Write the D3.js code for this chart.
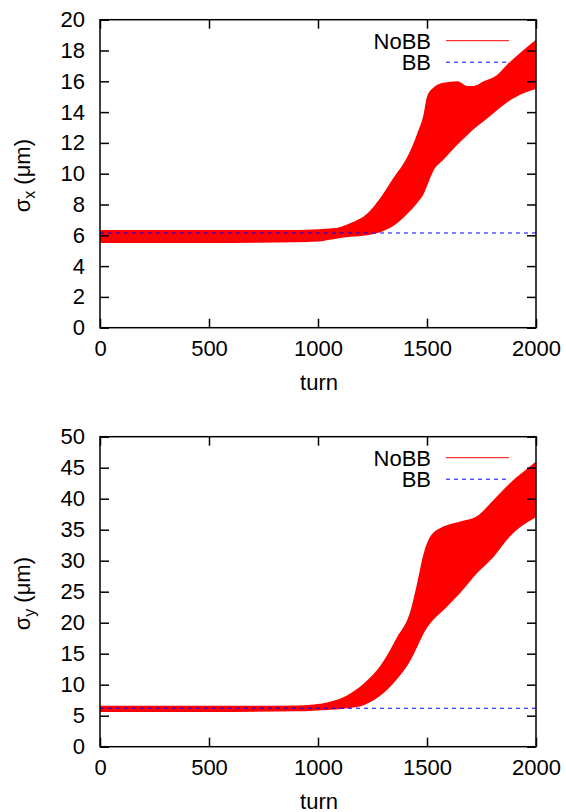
<!DOCTYPE html>
<html>
<head>
<meta charset="utf-8">
<script src="https://cdn.jsdelivr.net/npm/d3@7"></script>
<style>
  body { margin: 0; background: #fff; }
  text { font-family: "Liberation Sans", Arial, sans-serif; }
</style>
</head>
<body>
<div id="chart-area"></div>
<script>
// turns and envelope of the NoBB oscillation, sigma_x (um)
var turnsX = [0, 500, 900, 1000, 1070, 1150, 1225, 1285, 1345, 1410, 1455, 1485, 1500, 1530, 1575, 1640, 1685, 1715, 1760, 1820, 1865, 1940, 2000];
var noBBxHigh = [6.35, 6.35, 6.35, 6.4, 6.45, 6.8, 7.4, 8.4, 9.7, 11.1, 12.6, 13.9, 15.0, 15.6, 15.9, 16.0, 15.7, 15.7, 16.0, 16.4, 17.05, 18.0, 18.7];
var noBBxLow = [5.5, 5.5, 5.55, 5.6, 5.75, 5.9, 6.0, 6.2, 6.6, 7.4, 8.1, 8.7, 9.2, 10.2, 10.9, 11.9, 12.5, 12.9, 13.4, 14.1, 14.6, 15.2, 15.5];

// sigma_y (um)
var turnsY = [0, 500, 900, 980, 1060, 1135, 1210, 1285, 1360, 1425, 1455, 1485, 1515, 1575, 1650, 1730, 1805, 1880, 1990, 2000];
var noBByHigh = [6.6, 6.6, 6.65, 6.8, 7.3, 8.3, 10.2, 13.0, 17.5, 22.0, 26.4, 31.2, 33.9, 35.5, 36.3, 37.2, 39.8, 42.5, 45.7, 46.0];
var noBByLow = [5.6, 5.6, 5.7, 5.8, 5.95, 6.2, 6.7, 8.2, 10.8, 14.0, 16.1, 18.3, 19.9, 22.0, 24.7, 28.0, 30.6, 33.9, 36.8, 37.0];

// with beam-beam: flat
var turnsBB = [0, 500, 1000, 1500, 2000];
var bbX = [6.15, 6.15, 6.15, 6.15, 6.15];
var bbY = [6.2, 6.2, 6.2, 6.2, 6.2];

var xTicks = [0, 500, 1000, 1500, 2000];
var yTicksX = [0, 2, 4, 6, 8, 10, 12, 14, 16, 18, 20];
var yTicksY = [0, 5, 10, 15, 20, 25, 30, 35, 40, 45, 50];

var fs = 22;

var svg = d3.select("#chart-area")
  .append("svg")
  .attr("width", 566)
  .attr("height", 812);

function panel(top, bottom, yMax, yTicks, sub, turns, hi, lo, bb) {
  var left = 100, right = 536;
  var x = d3.scaleLinear().domain([0, 2000]).range([left, right]);
  var y = d3.scaleLinear().domain([0, yMax]).range([bottom, top]);

  var g = svg.append("g");

  // NoBB band
  var band = turns.map(function (t, i) { return { t: t, hi: hi[i], lo: lo[i] }; });
  g.append("path")
    .datum(band)
    .attr("fill", "#ff0000")
    .attr("d", d3.area()
      .x(function (d) { return x(d.t); })
      .y0(function (d) { return y(d.lo); })
      .y1(function (d) { return y(d.hi); })
      .curve(d3.curveMonotoneX));

  // BB line
  g.append("path")
    .datum(turnsBB.map(function (t, i) { return { t: t, v: bb[i] }; }))
    .attr("fill", "none")
    .attr("stroke", "#0000ff")
    .attr("stroke-width", 1)
    .attr("stroke-dasharray", "4,4")
    .attr("d", d3.line()
      .x(function (d) { return x(d.t); })
      .y(function (d) { return y(d.v); }));

  // axes
  function style(sel) {
    sel.select(".domain").remove();
    sel.selectAll("line").attr("stroke", "#000").attr("stroke-width", 1.5);
    sel.selectAll("text").attr("font-size", fs).attr("fill", "#000")
      .attr("font-family", "Liberation Sans, Arial, sans-serif");
  }
  g.append("g").attr("transform", "translate(" + left + ",0)")
    .call(d3.axisLeft(y).tickValues(yTicks).tickSize(-9).tickPadding(15).tickFormat(d3.format("d")))
    .call(style);
  g.append("g").attr("transform", "translate(" + right + ",0)")
    .call(d3.axisRight(y).tickValues(yTicks).tickSize(-9).tickFormat(""))
    .call(style);
  g.append("g").attr("transform", "translate(0," + bottom + ")")
    .call(d3.axisBottom(x).tickValues(xTicks).tickSize(-9).tickPadding(13).tickFormat(d3.format("d")))
    .call(style);
  g.append("g").attr("transform", "translate(0," + top + ")")
    .call(d3.axisTop(x).tickValues(xTicks).tickSize(-9).tickFormat(""))
    .call(style);

  g.append("rect")
    .attr("x", left).attr("y", top)
    .attr("width", right - left).attr("height", bottom - top)
    .attr("fill", "none").attr("stroke", "#000").attr("stroke-width", 1.5);

  // labels
  g.append("text")
    .attr("x", (left + right) / 2 + 1)
    .attr("y", bottom + 62)
    .attr("text-anchor", "middle")
    .attr("font-size", fs)
    .text("turn");

  var yl = g.append("text")
    .attr("transform", "translate(30," + ((top + bottom) / 2 + 2) + ") rotate(-90)")
    .attr("text-anchor", "middle")
    .attr("font-size", fs);
  yl.append("tspan").text("σ");
  yl.append("tspan").attr("dy", 5).attr("font-size", 16).text(sub);
  yl.append("tspan").attr("dy", -5).text(" (μm)");

  // legend
  var legend = [["NoBB", "#ff0000", null], ["BB", "#0000ff", "4,4"]];
  legend.forEach(function (item, i) {
    var ly = top + 21 + i * 21.5;
    g.append("text")
      .attr("x", 431).attr("y", ly + 8)
      .attr("text-anchor", "end")
      .attr("font-size", fs)
      .text(item[0]);
    g.append("line")
      .attr("x1", 446).attr("x2", 509)
      .attr("y1", ly).attr("y2", ly)
      .attr("stroke", item[1]).attr("stroke-width", 1)
      .attr("stroke-dasharray", item[2]);
  });
}

panel(19.7, 327.7, 20, yTicksX, "x", turnsX, noBBxHigh, noBBxLow, bbX);
panel(436.7, 746.7, 50, yTicksY, "y", turnsY, noBByHigh, noBByLow, bbY);
</script>
</body>
</html>
